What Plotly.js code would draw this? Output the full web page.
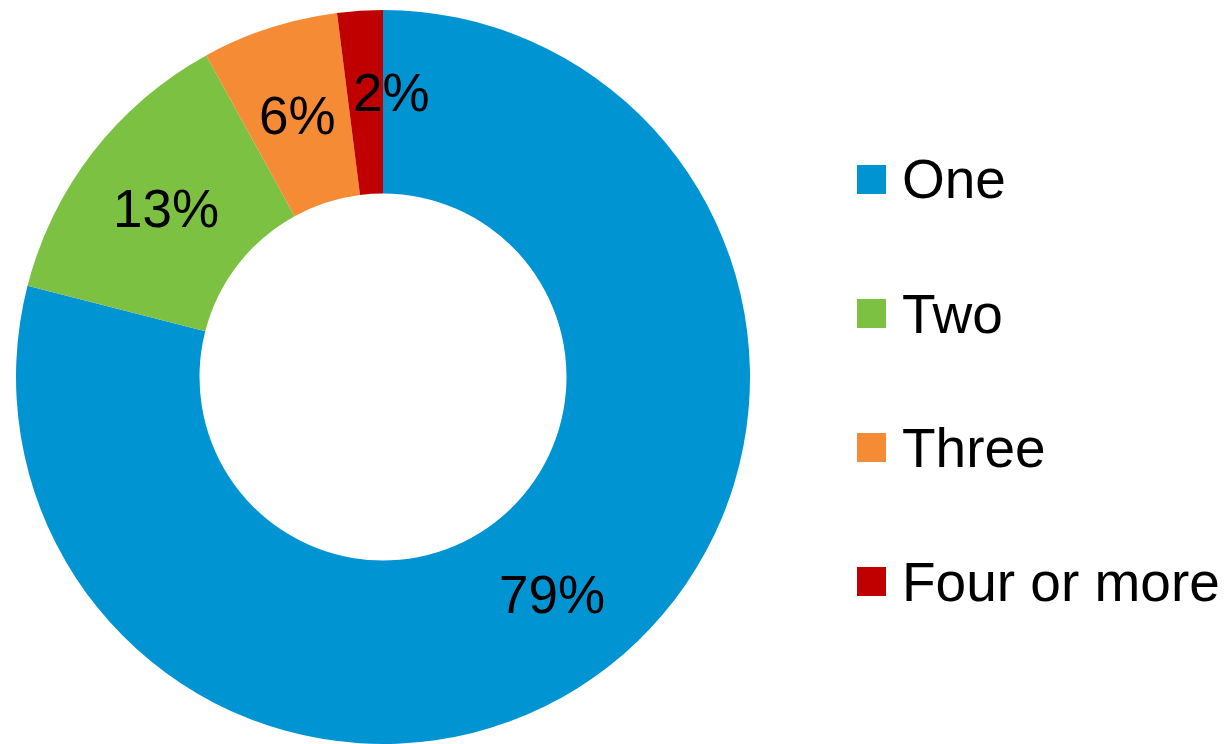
<!DOCTYPE html>
<html>
<head>
<meta charset="utf-8">
<script src="https://cdn.plot.ly/plotly-3.0.1.min.js"></script>
<style>html,body{margin:0;padding:0;background:#fff;}#chart{width:1230px;height:744px;}</style>
</head>
<body>
<div id="chart"></div>
<script>
// ---- data ----
const categories = ["One", "Two", "Three", "Four or more"];
const values = [79, 13, 6, 2];
const colors = ["#0094D3", "#7DC142", "#F58B35", "#C00000"];

// ---- layout constants ----
const W = 1230, H = 744;
const FONT = "Liberation Sans, Arial, Helvetica, sans-serif";
const domX = [0, 766 / W];
const domY = [0, 734 / H];
const hole = 0.5;
const labelSize = 53;
const legendSize = 55;
// pixel nudges for slice labels (style only)
const labelNudge = [[0, 0], [0, 0], [0, 0], [26, -10]];

const total = values.reduce((a, b) => a + b, 0);

// pie geometry in pixels (margins are zero)
const pw = (domX[1] - domX[0]) * W, ph = (domY[1] - domY[0]) * H;
const R = Math.min(pw, ph) / 2;
const cx = domX[0] * W + pw / 2;
const cy = (1 - domY[1]) * H + ph / 2;
const rLabel = R * (1 + hole) / 2;

const annotations = [];
let cum = 0;
values.forEach((v, i) => {
  const mid = (cum + v / 2) / total * 2 * Math.PI; // clockwise from 12 o'clock
  cum += v;
  const px = cx + rLabel * Math.sin(mid);
  const py = cy - rLabel * Math.cos(mid);
  annotations.push({
    x: px / W, y: 1 - py / H, xref: "paper", yref: "paper",
    xshift: labelNudge[i][0], yshift: -labelNudge[i][1],
    xanchor: "center", yanchor: "middle", showarrow: false,
    text: Math.round(v / total * 100) + "%",
    font: { family: FONT, size: labelSize, color: "#000" }
  });
});

// custom legend
const shapes = [];
const legX = 857, legSq = 29, legY0 = 179.5, legStep = 134, legTextX = 900;
categories.forEach((c, i) => {
  const yc = legY0 + i * legStep;
  shapes.push({
    type: "rect", xref: "paper", yref: "paper",
    x0: legX / W, x1: (legX + legSq) / W,
    y0: 1 - (yc - legSq / 2) / H, y1: 1 - (yc + legSq / 2) / H,
    fillcolor: colors[i], line: { width: 0 }
  });
  annotations.push({
    x: legTextX / W, y: 1 - yc / H, xref: "paper", yref: "paper",
    xanchor: "left", yanchor: "middle", showarrow: false,
    text: c, font: { family: FONT, size: legendSize, color: "#000" }
  });
});

const trace = {
  type: "pie",
  labels: categories,
  values: values,
  hole: hole,
  sort: false,
  direction: "clockwise",
  rotation: 0,
  textinfo: "none",
  hoverinfo: "label+percent",
  marker: { colors: colors, line: { width: 0 } },
  domain: { x: domX, y: domY },
  showlegend: false
};

const layout = {
  width: W, height: H,
  margin: { l: 0, r: 0, t: 0, b: 0 },
  paper_bgcolor: "#fff",
  plot_bgcolor: "#fff",
  showlegend: false,
  font: { family: FONT },
  annotations: annotations,
  shapes: shapes
};

Plotly.newPlot("chart", [trace], layout, { displayModeBar: false, staticPlot: true });
</script>
</body>
</html>
